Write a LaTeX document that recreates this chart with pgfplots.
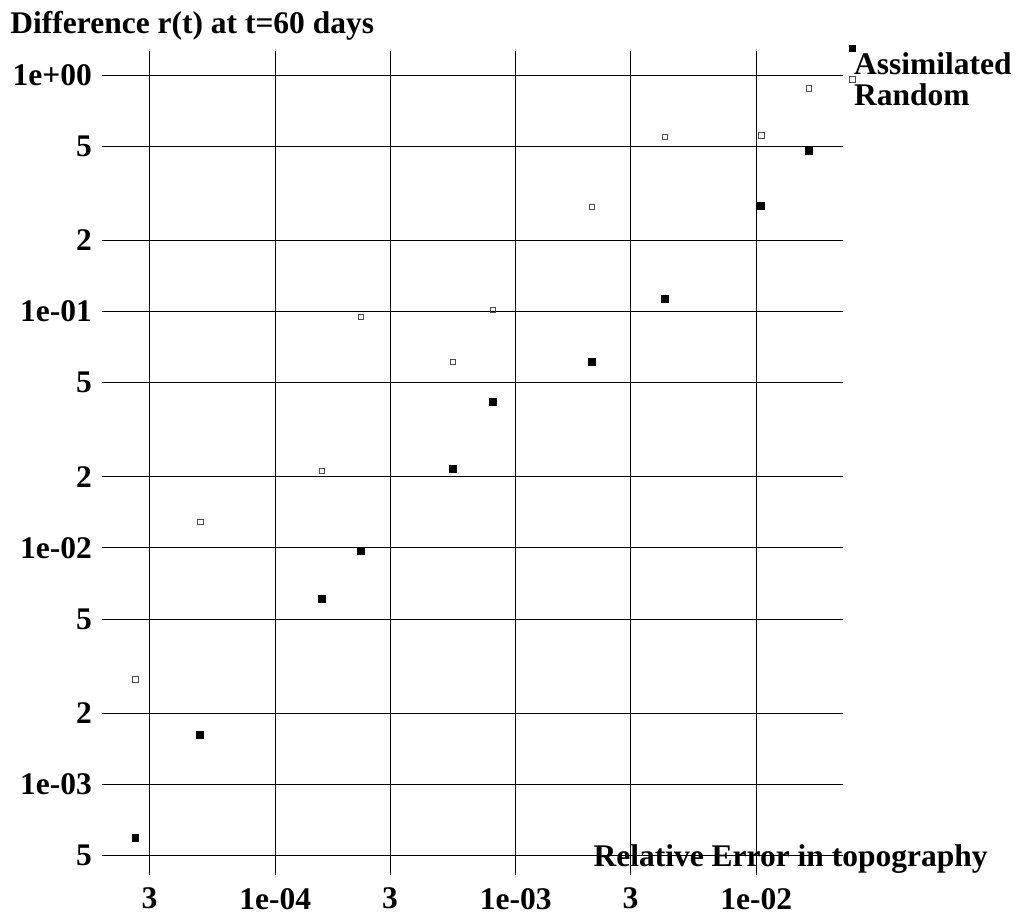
\documentclass[border=0pt]{standalone}
\usepackage{fontspec}
\setmainfont{Liberation Serif}
\usepackage{pgfplots}
\pgfplotsset{compat=1.18}
\newcommand\lf{\fontsize{15.75pt}{18pt}\selectfont\bfseries}

% r(t) at t=60 days, x = relative topography error
\pgfplotstableread{
err      assim    rand
2.62e-5  5.93e-4  2.78e-3
4.87e-5  1.618e-3 1.288e-2
1.563e-4 6.08e-3  2.12e-2
2.27e-4  9.71e-3  0.0950
5.48e-4  0.0216   0.0612
8.04e-4  0.0415   0.1016
2.07e-3  0.0612   0.277
4.17e-3  0.1133   0.548
1.047e-2 0.280    0.556
1.652e-2 0.480    0.878
}\rdata

\pgfplotsset{
  keymark/.style={legend image code/.code={
    \path (0pt,0pt);
    \begin{pgfinterruptboundingbox}
    \draw[##1] plot coordinates {(-0.65pt,9.75pt)};
    \end{pgfinterruptboundingbox}}},
}

\begin{document}
\begin{tikzpicture}
\useasboundingbox (-51pt,-21.5pt) rectangle (459pt,437.5pt);
\begin{axis}[
  scale only axis, width=370.5pt, height=412pt,
  xmode=log, ymode=log,
  xmin=1.903e-5, xmax=2.293e-2,
  ymin=4.131e-4, ymax=1.267,
  clip=false,
  axis line style={draw=none},
  tick style={draw=none}, major tick length=0pt,
  minor tick style={draw=none}, minor grid style={draw=none},
  grid=major, major grid style={black, line width=0.5pt},
  xtick={3e-5,1e-4,3e-4,1e-3,3e-3,1e-2},
  xticklabels={3,1e-04,3,1e-03,3,1e-02},
  ytick={5e-4,1e-3,2e-3,5e-3,1e-2,2e-2,5e-2,1e-1,2e-1,5e-1,1},
  yticklabels={5,1e-03,2,5,1e-02,2,5,1e-01,2,5,1e+00},
  tick label style={font=\lf},
  xticklabel style={yshift=-3pt},
  yticklabel style={xshift=-1.5pt},
  xlabel={Relative Error in topography},
  xlabel style={font=\lf, at={(rel axis cs:1.1957,0.0101)}, anchor=base east,
    inner sep=0pt},
  legend style={at={(rel axis cs:1,1)}, anchor=north west, xshift=5pt, yshift=-0.5pt,
    draw=none, fill=none, inner sep=0pt, column sep=0pt, row sep=0pt,
    nodes={inner sep=0pt, text height=11pt, text depth=4.5pt, font=\lf}},
  legend cell align=left,
]
\addplot[only marks, mark=square*, mark size=1.65pt, black, keymark]
  table[x=err, y=assim] {\rdata};
\addlegendentry{Assimilated}
\addplot[only marks, mark=square, mark size=1.4pt, black!70, line width=0.4pt, keymark]
  table[x=err, y=rand] {\rdata};
\addlegendentry{Random}
\node[font=\lf, anchor=base west, inner sep=0pt, xshift=-46pt, yshift=9pt]
  at (rel axis cs:0,1) {Difference r(t) at t=60 days};
\end{axis}
\end{tikzpicture}
\end{document}
